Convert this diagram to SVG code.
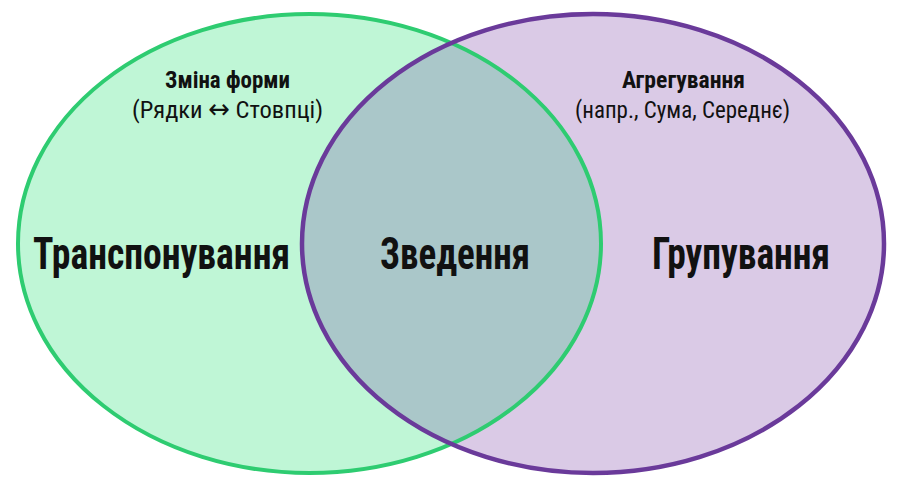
<svg xmlns="http://www.w3.org/2000/svg" width="910" height="487" viewBox="0 0 910 487">
  <style>
    .big { font-family: "Liberation Sans Narrow", "Roboto Condensed", "DejaVu Sans Condensed", "Liberation Sans", sans-serif; font-weight: bold; font-size: 45px; fill: #111111; text-anchor: middle; }
    .hd { font-family: "Liberation Sans Narrow", "Roboto Condensed", "DejaVu Sans Condensed", "Liberation Sans", sans-serif; font-weight: bold; font-size: 23px; fill: #111111; text-anchor: middle; }
    .sub { font-family: "Liberation Sans Narrow", "Roboto Condensed", "DejaVu Sans Condensed", "Liberation Sans", sans-serif; font-weight: normal; font-size: 23px; fill: #111111; text-anchor: middle; }
    .arr { font-size: 27px; }
    .gfill { fill: #BFF6D6; }
    .pfill { fill: #DACAE6; }
    .gline { fill: none; stroke: #2ECC71; stroke-width: 4; }
    .pline { fill: none; stroke: #6A3A9A; stroke-width: 4.5; }
  </style>
  <defs>
    <clipPath id="clipGreen">
      <ellipse cx="309.5" cy="243.5" rx="291.5" ry="229.5"/>
    </clipPath>
  </defs>
  <rect width="910" height="487" fill="#FFFFFF"/>

  <g id="set-transpose">
    <ellipse class="gfill" cx="309.5" cy="243.5" rx="291.5" ry="229.5"/>
  </g>
  <g id="set-grouping">
    <ellipse class="pfill" cx="593" cy="243.5" rx="291" ry="229.5"/>
  </g>
  <g id="set-pivot">
    <ellipse cx="593" cy="243.5" rx="291" ry="229.5" fill="#AAC7C9" clip-path="url(#clipGreen)"/>
  </g>
  <g id="outlines">
    <ellipse class="gline" cx="309.5" cy="243.5" rx="291.5" ry="229.5"/>
    <ellipse class="pline" cx="593" cy="243.5" rx="291" ry="229.5"/>
  </g>

  <g id="label-transpose">
    <text class="hd" x="227.5" y="88" textLength="125" lengthAdjust="spacingAndGlyphs">Зміна форми</text>
    <text class="sub" x="227.5" y="118" textLength="191" lengthAdjust="spacingAndGlyphs">(Рядки <tspan class="arr">↔</tspan> Стовпці)</text>
    <text class="big" x="161.5" y="269" textLength="257" lengthAdjust="spacingAndGlyphs">Транспонування</text>
  </g>
  <g id="label-pivot">
    <text class="big" x="455" y="269" textLength="150" lengthAdjust="spacingAndGlyphs">Зведення</text>
  </g>
  <g id="label-grouping">
    <text class="hd" x="683.5" y="88" textLength="123" lengthAdjust="spacingAndGlyphs">Агрегування</text>
    <text class="sub" x="682.5" y="118" textLength="215" lengthAdjust="spacingAndGlyphs">(напр., Сума, Середнє)</text>
    <text class="big" x="741" y="269" textLength="178" lengthAdjust="spacingAndGlyphs">Групування</text>
  </g>
</svg>
